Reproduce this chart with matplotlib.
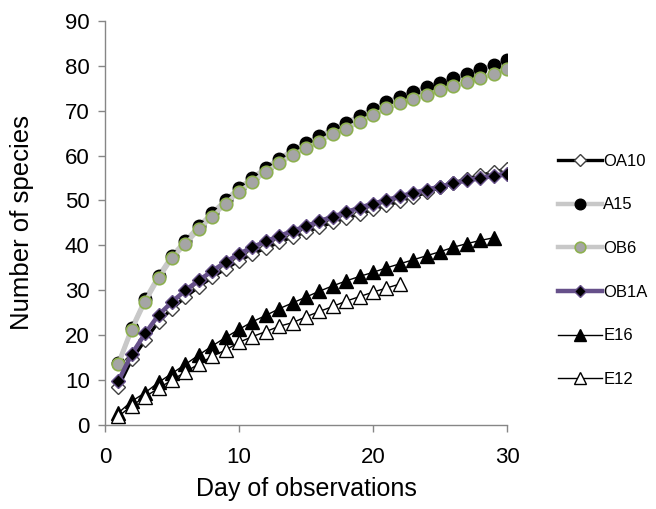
import matplotlib
matplotlib.use("Agg")
import matplotlib.pyplot as plt

plt.rcParams['font.family'] = ['Liberation Sans', 'DejaVu Sans']

days = list(range(1, 31))
days_e16 = list(range(1, 30))
days_e12 = list(range(1, 23))

oa10 = [8.5, 14.6, 18.9, 23.0, 25.9, 28.5, 30.8, 32.9, 34.8, 36.6, 38.1, 39.4, 40.7, 41.9, 43.0,
        44.1, 45.1, 46.1, 47.0, 48.0, 48.9, 49.8, 50.8, 51.8, 52.9, 53.9, 54.8, 55.6, 56.3, 57.0]
a15 = [13.8, 21.6, 28.0, 33.2, 37.7, 41.0, 44.3, 47.2, 50.1, 52.8, 55.0, 57.3, 59.3, 61.2, 62.8,
       64.3, 66.0, 67.3, 68.9, 70.4, 71.9, 73.1, 74.2, 75.2, 76.2, 77.2, 78.2, 79.2, 80.1, 81.2]
ob6 = [13.5, 21.2, 27.5, 32.7, 37.1, 40.3, 43.6, 46.4, 49.3, 52.0, 54.1, 56.4, 58.3, 60.1, 61.7,
       63.1, 64.8, 66.0, 67.5, 69.0, 70.5, 71.6, 72.7, 73.6, 74.5, 75.4, 76.3, 77.3, 78.2, 79.3]
ob1a = [9.8, 15.8, 20.4, 24.5, 27.4, 30.0, 32.2, 34.3, 36.3, 38.1, 39.6, 40.9, 42.1, 43.2, 44.3,
        45.4, 46.4, 47.4, 48.4, 49.3, 50.1, 50.9, 51.7, 52.4, 53.1, 53.8, 54.5, 55.0, 55.5, 56.0]
e16 = [2.7, 5.3, 7.2, 9.5, 11.5, 13.5, 15.6, 17.6, 19.5, 21.3, 23.0, 24.4, 25.9, 27.2, 28.5,
       29.8, 31.0, 32.1, 33.1, 34.0, 35.0, 35.9, 36.8, 37.7, 38.6, 39.6, 40.4, 41.1, 41.7]
e12 = [1.9, 4.3, 6.3, 8.2, 10.0, 11.8, 13.6, 15.3, 16.7, 18.4, 19.7, 20.8, 22.0, 22.8, 24.1,
       25.3, 26.4, 27.6, 28.6, 29.6, 30.5, 31.4]

fig = plt.figure(figsize=(6.56, 5.09), dpi=100)
ax = fig.add_axes([0.160, 0.165, 0.613, 0.794])

ax.plot(days, oa10, color='black', lw=2.4, marker='D', ms=7.5, mfc='white', mec='#404040', mew=1.0,
        label='OA10', zorder=3)
ax.plot(days, a15, color='#c8c8c8', lw=3.2, marker='o', ms=9, mfc='black', mec='black', mew=1.0,
        label='A15', zorder=3)
ax.plot(days, ob6, color='#c8c8c8', lw=3.2, marker='o', ms=9, mfc='#a5a5a5', mec='#8db04f', mew=1.2,
        label='OB6', zorder=3)
ax.plot(days, ob1a, color='#66508a', lw=3.2, marker='D', ms=7.5, mfc='black', mec='#66508a', mew=1.0,
        label='OB1A', zorder=3)
ax.plot(days_e16, e16, color='black', lw=1.0, marker='^', ms=9.5, mfc='black', mec='black', mew=1.0,
        label='E16', zorder=3)
ax.plot(days_e12, e12, color='black', lw=1.0, marker='^', ms=9.5, mfc='white', mec='black', mew=1.0,
        label='E12', zorder=3)

ax.set_xlim(0, 30)
ax.set_ylim(0, 90)
ax.set_xticks([0, 10, 20, 30])
ax.set_yticks(range(0, 91, 10))
for s in ['top', 'right']:
    ax.spines[s].set_visible(False)
for s in ['left', 'bottom']:
    ax.spines[s].set_color('#868686')
    ax.spines[s].set_linewidth(1.0)
ax.tick_params(axis='both', colors='#868686', length=5, width=1.0, labelsize=16,
               labelcolor='black', direction='out')
ax.tick_params(axis='x', pad=11)
ax.tick_params(axis='y', pad=6)
for sp in ax.spines.values():
    sp.set_clip_on(False)

ax.set_xlabel('Day of observations', fontsize=18, labelpad=6)
ax.set_ylabel('Number of species', fontsize=18.5, labelpad=22)

leg = ax.legend(loc='upper left', bbox_to_anchor=(0.851, 0.698), bbox_transform=fig.transFigure,
                frameon=False, fontsize=12, handlelength=2.6, handletextpad=0.1,
                labelspacing=1.72, borderaxespad=0, borderpad=0, markerscale=0.85)

fig.savefig('out.png', dpi=100)
